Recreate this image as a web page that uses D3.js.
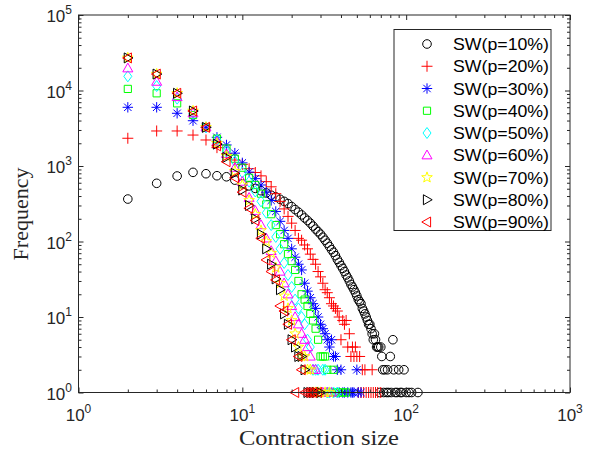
<!DOCTYPE html>
<html>
<head>
<meta charset="utf-8">
<script src="https://cdn.jsdelivr.net/npm/d3@7"></script>
<style>
  html, body { margin: 0; padding: 0; background: #fff; }
  svg { display: block; }
</style>
</head>
<body>
<svg id="chart" width="597" height="450"></svg>
<script>
// ---------------- DATA ----------------
const seriesLabels = ["SW(p=10%)","SW(p=20%)","SW(p=30%)","SW(p=40%)","SW(p=50%)","SW(p=60%)","SW(p=70%)","SW(p=80%)","SW(p=90%)"];

// [contraction size, frequency]
const p10 = [[2,365],[3,590],[4,737],[5,824],[6,790],[7,743],[8,720],[9,650],[10,580],[11,545],[12,505],[13,470],[14,440],[15,410],[16,390],[17,362],[18,340],[19,318],[20,290],[21,265],[22,245],[23,225],[24,205],[25,190],[26,175],[27,160],[28,146],[29,135],[30,125],[31,114],[32,104],[33,95],[34,86],[35,78],[36,72],[37,65],[38,58],[39,53],[40,48],[41,44],[42,40],[43,36],[44,33],[45,30],[46,27],[47,25],[48,23],[49,21],[50,19],[51,17],[52,16],[53,15],[54,13],[55,12],[56,11],[57,10],[58,9],[59,8],[60,8],[61,7],[62,6],[63,5],[64,6],[65,5],[66,4],[67,4],[68,4],[69,1],[70,4],[71,3],[72,2],[73,1],[74,2],[76,1],[77,2],[78,1],[80,3],[81,1],[83,5],[84,2],[86,1],[88,1],[90,2],[92,1],[94,1],[97,2],[100,1],[104,1],[108,1],[118,1]];
const p20 = [[2,2330],[3,2910],[4,2910],[5,2570],[6,2210],[7,1750],[8,1450],[9,1200],[10,1050],[11,920],[12,820],[13,740],[14,620],[15,530],[16,430],[17,340],[18,270],[19,215],[20,175],[21,140],[22,110],[23,104],[24,90],[25,80],[26,68],[27,58],[28,50],[29,40],[30,34],[31,28],[32,23],[33,21],[34,18],[35,15],[36,14],[37,13],[38,12],[39,10],[40,5],[41,9],[42,8],[43,9],[44,4],[45,6],[46,3],[47,4],[48,3],[49,4],[50,3],[51,1],[52,3],[53,1],[54,2],[55,1],[56,2],[57,1],[59,1],[61,1],[62,2],[63,1],[65,1],[67,1],[70,1]];
const p30 = [[2,5990],[3,5990],[4,4990],[5,3980],[6,3250],[7,2400],[8,1900],[9,1480],[10,1100],[11,830],[12,680],[13,560],[14,450],[15,350],[16,250],[17,185],[18,140],[19,110],[20,80],[21,62],[22,50],[23,42],[24,28],[25,22],[26,18],[27,15],[28,13],[29,10],[30,8],[31,7],[32,6],[33,5],[34,4],[35,5],[36,3],[37,3],[38,2],[39,1],[40,2],[41,1],[42,1],[44,1],[46,1],[47,1],[48,1],[50,2],[51,1],[53,1]];
const p40 = [[2,10500],[3,9180],[4,6760],[5,4730],[6,3250],[7,2300],[8,1700],[9,1250],[10,950],[11,700],[12,560],[13,430],[14,310],[15,230],[16,165],[17,125],[18,92],[19,68],[20,55],[21,42],[22,30],[23,20],[24,17],[25,14],[26,11],[27,9],[28,7],[29,5],[30,3],[31,3],[32,3],[33,2],[34,1],[35,1],[36,2],[37,1],[39,1],[41,1],[43,1]];
const p50 = [[2,15400],[3,11450],[4,7800],[5,5000],[6,3250],[7,2200],[8,1550],[9,1150],[10,820],[11,620],[12,460],[13,340],[14,240],[15,165],[16,115],[17,80],[18,52],[19,36],[20,25],[21,17],[22,13],[23,10],[24,8],[25,5],[26,4],[27,2],[28,2],[29,2],[30,1],[31,2],[32,2],[33,1],[34,1],[36,1],[38,1]];
const p60 = [[2,19700],[3,13100],[4,8200],[5,5000],[6,3250],[7,2100],[8,1450],[9,950],[10,620],[11,380],[12,255],[13,165],[14,110],[15,75],[16,55],[17,40],[18,28],[19,20],[20,14],[21,10],[22,8],[23,6],[24,5],[25,4],[26,3],[27,2],[28,2],[29,1],[30,1],[31,1],[33,1],[35,1]];
const p70 = [[2,27000],[3,16500],[4,9180],[5,5350],[6,3250],[7,2000],[8,1350],[9,850],[10,560],[11,350],[12,230],[13,140],[14,100],[15,70],[16,45],[17,28],[18,19],[19,13],[20,9],[21,6],[22,4],[23,3],[24,3],[25,2],[26,2],[27,1],[28,1],[29,1],[30,1],[32,1],[34,1]];
const p80 = [[2,27000],[3,16500],[4,9180],[5,5350],[6,3250],[7,1950],[8,1300],[9,800],[10,480],[11,300],[12,200],[13,125],[14,80],[15,50],[16,32],[17,23],[18,11],[19,8],[20,5],[21,4],[22,3],[23,3],[24,2],[25,1],[26,1],[27,1],[28,1],[30,1]];
const p90 = [[2,27000],[3,16500],[4,9180],[5,5350],[6,3250],[7,1850],[8,1140],[9,700],[10,450],[11,275],[12,190],[13,110],[14,57],[15,40],[16,31],[17,14],[18,12],[19,8],[20,5],[21,1],[22,3],[23,2],[24,1],[25,1],[26,1],[27,1],[29,1]];

const xTickExps = [0, 1, 2, 3];
const yTickExps = [0, 1, 2, 3, 4, 5];

// ---------------- STYLE ----------------
const seriesData = [p10, p20, p30, p40, p50, p60, p70, p80, p90];
const colors = ["#000000","#ff0000","#0000ff","#00ff00","#00ffff","#ff00ff","#ffff00","#000000","#ff0000"];
const markers = ["circle","plus","asterisk","square","diamond","triUp","pentagram","triRight","triLeft"];

const W = 597, H = 450;
const M = { left: 78.5, right: 570, top: 15, bottom: 392.5 };

const svg = d3.select("#chart");

const x = d3.scaleLog().domain([1, 1000]).range([M.left, M.right]);
const y = d3.scaleLog().domain([1, 1e5]).range([M.bottom, M.top]);

function markerPath(type) {
  const p = d3.path();
  switch (type) {
    case "circle": p.arc(0, 0, 4.3, 0, 2 * Math.PI); break;
    case "plus": p.moveTo(-5.5, 0); p.lineTo(5.5, 0); p.moveTo(0, -5.5); p.lineTo(0, 5.5); break;
    case "asterisk": {
      const a = 5.2, b = 3.7;
      p.moveTo(-a, 0); p.lineTo(a, 0); p.moveTo(0, -a); p.lineTo(0, a);
      p.moveTo(-b, -b); p.lineTo(b, b); p.moveTo(-b, b); p.lineTo(b, -b);
      break;
    }
    case "square": p.rect(-3.6, -3.6, 7.2, 7.2); break;
    case "diamond": p.moveTo(0, -5.5); p.lineTo(4, 0); p.lineTo(0, 5.5); p.lineTo(-4, 0); p.closePath(); break;
    case "triUp": p.moveTo(0, -5.2); p.lineTo(5, 3.6); p.lineTo(-5, 3.6); p.closePath(); break;
    case "triRight": p.moveTo(5.2, 0); p.lineTo(-3.6, 5); p.lineTo(-3.6, -5); p.closePath(); break;
    case "triLeft": p.moveTo(-5.2, 0); p.lineTo(3.6, 5); p.lineTo(3.6, -5); p.closePath(); break;
    case "pentagram": {
      const R = 5.6, r = 2.3;
      for (let i = 0; i < 10; i++) {
        const ang = -Math.PI / 2 + i * Math.PI / 5;
        const rr = i % 2 === 0 ? R : r;
        const px = rr * Math.cos(ang), py = rr * Math.sin(ang);
        if (i === 0) p.moveTo(px, py); else p.lineTo(px, py);
      }
      p.closePath();
      break;
    }
  }
  return p.toString();
}

// white plot background
svg.append("rect").attr("x", M.left).attr("y", M.top)
  .attr("width", M.right - M.left).attr("height", M.bottom - M.top)
  .attr("fill", "#fff");

// ---------- data ----------
const plot = svg.append("g");
seriesData.forEach((data, i) => {
  const d = markerPath(markers[i]);
  plot.append("g")
    .selectAll("path")
    .data(data)
    .join("path")
    .attr("d", d)
    .attr("transform", v => `translate(${x(v[0])},${y(v[1])})`)
    .attr("fill", "none")
    .attr("stroke", colors[i])
    .attr("stroke-width", 1);
});

// ---------- axes ----------
function logTicks(minExp, maxExp) {
  const major = [], minor = [];
  for (let e = minExp; e <= maxExp; e++) {
    major.push(Math.pow(10, e));
    if (e < maxExp) for (let k = 2; k <= 9; k++) minor.push(k * Math.pow(10, e));
  }
  return { major, minor };
}
const xt = logTicks(xTickExps[0], xTickExps[xTickExps.length - 1]);
const yt = logTicks(yTickExps[0], yTickExps[yTickExps.length - 1]);

function styleAxis(g) {
  g.select(".domain").remove();
  g.selectAll("line").attr("stroke", "#262626").attr("stroke-width", 1);
  g.selectAll("text").remove();
}

const majLen = 5, minLen = 3;
svg.append("g").attr("transform", `translate(0,${M.bottom})`)
  .call(d3.axisBottom(x).tickValues(xt.major).tickSize(-majLen).tickFormat("")).call(styleAxis);
svg.append("g").attr("transform", `translate(0,${M.bottom})`)
  .call(d3.axisBottom(x).tickValues(xt.minor).tickSize(-minLen).tickFormat("")).call(styleAxis);
svg.append("g").attr("transform", `translate(0,${M.top})`)
  .call(d3.axisTop(x).tickValues(xt.major).tickSize(-majLen).tickFormat("")).call(styleAxis);
svg.append("g").attr("transform", `translate(0,${M.top})`)
  .call(d3.axisTop(x).tickValues(xt.minor).tickSize(-minLen).tickFormat("")).call(styleAxis);
svg.append("g").attr("transform", `translate(${M.left},0)`)
  .call(d3.axisLeft(y).tickValues(yt.major).tickSize(-majLen).tickFormat("")).call(styleAxis);
svg.append("g").attr("transform", `translate(${M.left},0)`)
  .call(d3.axisLeft(y).tickValues(yt.minor).tickSize(-minLen).tickFormat("")).call(styleAxis);
svg.append("g").attr("transform", `translate(${M.right},0)`)
  .call(d3.axisRight(y).tickValues(yt.major).tickSize(-majLen).tickFormat("")).call(styleAxis);
svg.append("g").attr("transform", `translate(${M.right},0)`)
  .call(d3.axisRight(y).tickValues(yt.minor).tickSize(-minLen).tickFormat("")).call(styleAxis);

// box
svg.append("rect").attr("x", M.left).attr("y", M.top)
  .attr("width", M.right - M.left).attr("height", M.bottom - M.top)
  .attr("fill", "none").attr("stroke", "#262626").attr("stroke-width", 1);

// tick labels
const tickFont = "'Liberation Sans', Arial, sans-serif";
xTickExps.forEach(e => {
  const t = svg.append("text")
    .attr("x", x(Math.pow(10, e))).attr("y", 421)
    .attr("text-anchor", "middle")
    .attr("font-family", tickFont).attr("font-size", 17).attr("fill", "#262626");
  t.append("tspan").text("10");
  t.append("tspan").attr("dy", -8).attr("font-size", 12).text(e);
});
yTickExps.forEach(e => {
  const t = svg.append("text")
    .attr("x", 72).attr("y", y(Math.pow(10, e)) + 7)
    .attr("text-anchor", "end")
    .attr("font-family", tickFont).attr("font-size", 17).attr("fill", "#262626");
  t.append("tspan").text("10");
  t.append("tspan").attr("dy", -8).attr("font-size", 12).text(e);
});

// axis titles
const titleFont = "'Liberation Serif', 'Times New Roman', serif";
svg.append("text").attr("x", 319).attr("y", 445)
  .attr("text-anchor", "middle").attr("font-family", titleFont).attr("font-size", 22)
  .attr("textLength", 160).attr("lengthAdjust", "spacingAndGlyphs")
  .attr("fill", "#262626").text("Contraction size");
svg.append("text").attr("transform", "translate(28,214) rotate(-90)")
  .attr("text-anchor", "middle").attr("font-family", titleFont).attr("font-size", 22)
  .attr("fill", "#262626").text("Frequency");

// ---------- legend ----------
const L = { x: 394, y: 29.5, w: 157, h: 201 };
const lg = svg.append("g");
lg.append("rect").attr("x", L.x).attr("y", L.y).attr("width", L.w).attr("height", L.h)
  .attr("fill", "#fff").attr("stroke", "#262626").attr("stroke-width", 1);
seriesLabels.forEach((lab, i) => {
  const cy = 44 + i * 22.25;
  lg.append("path").attr("d", markerPath(markers[i]))
    .attr("transform", `translate(427,${cy})`)
    .attr("fill", "none").attr("stroke", colors[i]).attr("stroke-width", 1);
  lg.append("text").attr("x", 453).attr("y", cy + 6)
    .attr("font-family", tickFont).attr("font-size", 17).attr("fill", "#000")
    .attr("textLength", 96).attr("lengthAdjust", "spacingAndGlyphs")
    .text(lab);
});
</script>
</body>
</html>
